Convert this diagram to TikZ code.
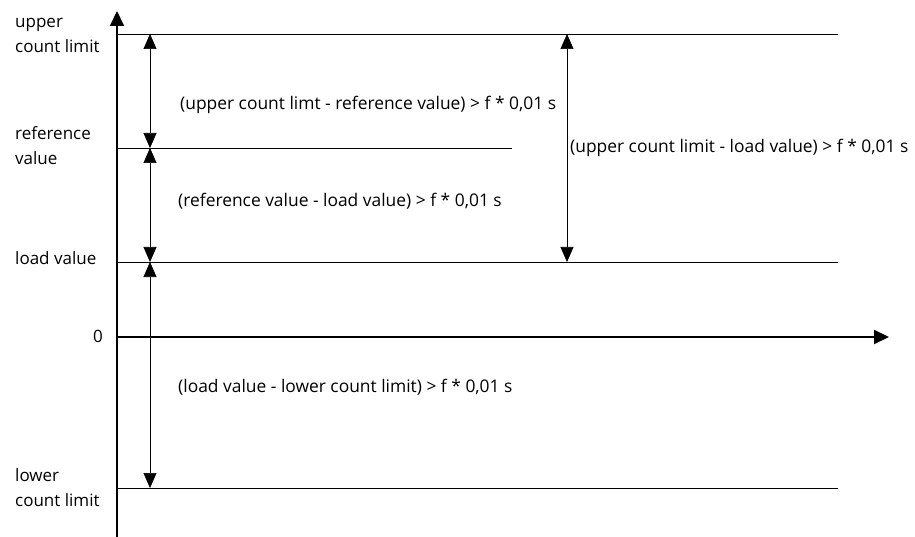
\documentclass[tikz,border=0pt]{standalone}
\usepackage{fontspec}
\setmainfont{Open Sans}
\usetikzlibrary{arrows.meta}
\begin{document}
\begin{tikzpicture}[x=1pt,y=-1pt,
  axis/.style={line width=2pt,-{Triangle[width=14pt,length=15pt]}},
  level/.style={line width=0.6pt},
  dim/.style={line width=0.7pt,{Triangle[width=13pt,length=15pt]}-{Triangle[width=13pt,length=15pt]}},
  lbl/.style={font=\fontsize{17}{25}\selectfont,inner sep=0pt,align=left},
  expr/.style={font=\fontsize{17.4}{20}\selectfont,inner sep=0pt,anchor=west}]
\useasboundingbox (0,0) rectangle (915,537);
% coordinates
\coordinate (ybot) at (117,537);
\coordinate (ytop) at (117,11);
\coordinate (xl) at (116,337);
\coordinate (xr) at (889,337);
\coordinate (ucL) at (117,34);  \coordinate (ucR) at (838,34);
\coordinate (rvL) at (117,148); \coordinate (rvR) at (512,148);
\coordinate (lvL) at (117,262); \coordinate (lvR) at (838,262);
\coordinate (lcL) at (117,488); \coordinate (lcR) at (838,488);
\coordinate (a1) at (150,34);
\coordinate (a2) at (150,148);
\coordinate (a3) at (150,262);
\coordinate (a4) at (150,488);
\coordinate (b1) at (567,34);
\coordinate (b2) at (567,262);
% level lines
\draw[level] (ucL) -- (ucR);
\draw[level] (rvL) -- (rvR);
\draw[level] (lvL) -- (lvR);
\draw[level] (lcL) -- (lcR);
% axes
\draw[axis] (ybot) -- (ytop);
\draw[axis] (xl) -- (xr);
% dimension arrows
\draw[dim] (a1) -- (a2);
\draw[dim] (a2) -- (a3);
\draw[dim] (a3) -- (a4);
\draw[dim] (b1) -- (b2);
% labels
\node[lbl,anchor=west] (tuc) at (15,35) {upper\\count limit};
\node[lbl,anchor=west] (trv) at (15,146) {reference\\value};
\node[lbl,anchor=west] (tlv) at (15,258) {load value};
\node[lbl,anchor=east] (t0) at (103,336) {0};
\node[lbl,anchor=west] (tlc) at (15,488) {lower\\count limit};
\node[expr] (e1) at (180,105) {(upper count limt - reference value) > f * 0,01 s};
\node[expr] (e2) at (178,201) {(reference value - load value) > f * 0,01 s};
\node[expr] (e3) at (178,387) {(load value - lower count limit) > f * 0,01 s};
\node[expr] (e4) at (570,148) {(upper count limit - load value) > f * 0,01 s};
\end{tikzpicture}
\end{document}
